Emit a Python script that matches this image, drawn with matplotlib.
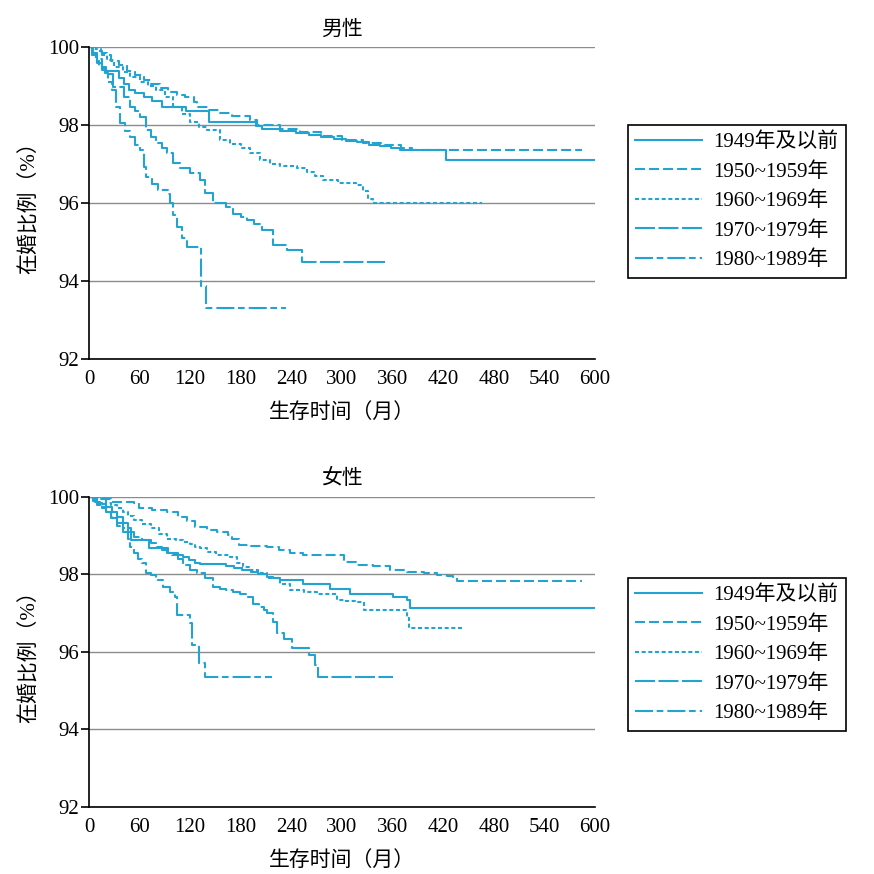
import matplotlib
matplotlib.use("Agg")
import matplotlib.pyplot as plt

plt.rcParams['font.family'] = ['Liberation Serif', 'Noto Sans CJK SC']
plt.rcParams['lines.scale_dashes'] = False

labels = ['1949年及以前', '1950~1959年', '1960~1969年', '1970~1979年', '1980~1989年']
xticks = [0, 60, 120, 180, 240, 300, 360, 420, 480, 540, 600]
yticks = [92, 94, 96, 98, 100]

# 男性 - 生存时间(月) / 在婚比例(%)
m1949_t = [0, 5, 10, 15, 20, 36, 42, 48, 55, 65, 75, 86, 115, 142, 198, 205, 226, 245, 261, 275, 290, 305, 318, 332, 345, 358, 369, 423, 600]
m1949_v = [100, 99.8, 99.6, 99.45, 99.38, 99.2, 99.05, 98.9, 98.82, 98.73, 98.62, 98.45, 98.35, 98.08, 97.97, 97.9, 97.85, 97.8, 97.74, 97.7, 97.65, 97.6, 97.56, 97.5, 97.46, 97.42, 97.36, 97.1, 97.1]
m1950_t = [0, 8, 16, 26, 35, 45, 55, 65, 74, 84, 94, 104, 114, 125, 128, 142, 155, 170, 191, 199, 226, 250, 275, 300, 325, 350, 370, 383, 585]
m1950_v = [100, 99.9, 99.8, 99.65, 99.53, 99.38, 99.27, 99.15, 99.06, 98.95, 98.85, 98.78, 98.72, 98.59, 98.45, 98.38, 98.3, 98.22, 98.13, 98.0, 97.9, 97.82, 97.72, 97.62, 97.55, 97.48, 97.42, 97.36, 97.36]
m1960_t = [0, 8, 14, 21, 30, 40, 49, 60, 70, 80, 90, 100, 110, 120, 130, 140, 155, 167, 180, 191, 203, 215, 227, 247, 258, 268, 278, 295, 317, 325, 331, 337, 466]
m1960_v = [100, 99.95, 99.85, 99.66, 99.5, 99.35, 99.23, 99.1, 99.0, 98.9, 98.72, 98.47, 98.28, 98.07, 97.95, 97.87, 97.62, 97.52, 97.4, 97.28, 97.1, 97.0, 96.95, 96.89, 96.8, 96.7, 96.59, 96.52, 96.46, 96.3, 96.1, 95.99, 95.99]
m1970_t = [0, 5, 10, 15, 20, 29, 41, 49, 55, 61, 68, 74, 80, 86, 92, 100, 108, 120, 132, 137, 147, 163, 171, 180, 187, 196, 205, 218, 235, 252, 351]
m1970_v = [100, 99.85, 99.7, 99.5, 99.3, 98.98, 98.73, 98.47, 98.35, 98.21, 97.87, 97.7, 97.53, 97.4, 97.27, 97.02, 96.89, 96.76, 96.59, 96.25, 95.99, 95.9, 95.73, 95.65, 95.56, 95.45, 95.3, 94.92, 94.79, 94.5, 94.5]
m1980_t = [0, 4, 8, 12, 16, 19, 23, 27, 32, 37, 43, 49, 55, 61, 65, 68, 75, 82, 94, 96, 100, 104, 110, 116, 133, 139, 234]
m1980_v = [100, 99.8, 99.65, 99.5, 99.4, 99.33, 99.1, 98.9, 98.45, 98.04, 97.85, 97.7, 97.5, 97.36, 96.93, 96.67, 96.5, 96.33, 96.24, 95.99, 95.7, 95.39, 95.1, 94.88, 93.86, 93.3, 93.3]

# 女性
f1949_t = [0, 5, 10, 15, 20, 27, 33, 40, 46, 50, 71, 94, 106, 112, 119, 126, 132, 163, 172, 182, 192, 200, 211, 218, 226, 254, 286, 310, 361, 377, 381, 600]
f1949_v = [100, 99.93, 99.85, 99.8, 99.74, 99.6, 99.48, 99.32, 99.18, 98.88, 98.67, 98.54, 98.5, 98.45, 98.37, 98.3, 98.26, 98.2, 98.15, 98.1, 98.06, 98.0, 97.94, 97.9, 97.85, 97.76, 97.63, 97.5, 97.4, 97.33, 97.12, 97.12]
f1950_t = [0, 13, 26, 53, 59, 75, 93, 106, 116, 126, 140, 152, 165, 170, 178, 192, 211, 225, 238, 254, 298, 302, 318, 337, 357, 377, 397, 413, 425, 432, 436, 585]
f1950_v = [100, 99.93, 99.87, 99.83, 99.7, 99.65, 99.61, 99.48, 99.38, 99.23, 99.15, 99.1, 99.01, 98.9, 98.75, 98.72, 98.7, 98.62, 98.56, 98.5, 98.5, 98.32, 98.25, 98.2, 98.12, 98.06, 98.04, 97.98, 97.95, 97.92, 97.82, 97.82]
f1960_t = [0, 10, 20, 26, 33, 40, 46, 53, 63, 73, 83, 93, 103, 112, 120, 126, 132, 140, 150, 167, 175, 183, 191, 200, 211, 226, 238, 255, 270, 294, 304, 317, 326, 377, 379, 383, 444]
f1960_v = [100, 99.95, 99.85, 99.78, 99.7, 99.61, 99.5, 99.4, 99.3, 99.18, 99.05, 98.92, 98.88, 98.84, 98.78, 98.71, 98.67, 98.58, 98.49, 98.45, 98.28, 98.18, 98.11, 98.02, 97.9, 97.76, 97.59, 97.54, 97.5, 97.33, 97.3, 97.29, 97.08, 96.86, 96.65, 96.62, 96.62]
f1970_t = [0, 7, 13, 20, 26, 33, 40, 46, 53, 63, 73, 80, 86, 92, 99, 106, 112, 120, 128, 137, 147, 155, 163, 171, 179, 187, 195, 201, 207, 211, 218, 223, 231, 241, 261, 268, 271, 360]
f1970_v = [100, 99.87, 99.74, 99.6, 99.48, 99.32, 99.18, 99.08, 98.97, 98.88, 98.8, 98.7, 98.62, 98.55, 98.49, 98.38, 98.24, 98.12, 98.02, 97.9, 97.67, 97.62, 97.59, 97.55, 97.5, 97.4, 97.24, 97.15, 97.07, 96.99, 96.77, 96.47, 96.34, 96.09, 95.92, 95.66, 95.34, 95.34]
f1980_t = [0, 5, 10, 15, 20, 26, 33, 40, 46, 49, 53, 58, 63, 68, 73, 80, 88, 96, 102, 104, 120, 122, 130, 138, 217]
f1980_v = [100, 99.88, 99.78, 99.7, 99.6, 99.44, 99.25, 99.08, 98.92, 98.71, 98.54, 98.4, 98.28, 98.02, 97.98, 97.85, 97.68, 97.55, 97.42, 96.95, 96.73, 96.17, 95.7, 95.34, 95.34]

male = [(m1949_t, m1949_v), (m1950_t, m1950_v), (m1960_t, m1960_v), (m1970_t, m1970_v), (m1980_t, m1980_v)]
female = [(f1949_t, f1949_v), (f1950_t, f1950_v), (f1960_t, f1960_v), (f1970_t, f1970_v), (f1980_t, f1980_v)]

color = '#22a3d2'
dashes = [None, (7.2, 2.9), (2.9, 1.9), (14.4, 2.5), (13, 2.6, 4.8, 2.9)]

fig = plt.figure(figsize=(8.74, 8.74), dpi=100)
ax1 = fig.add_axes([89/874, 1-359/874, 506/874, 312/874])
ax2 = fig.add_axes([89/874, 1-806.7/874, 506/874, 310/874])


def draw(ax, data, title, leg_top):
    handles = []
    for (t, v), d, lab in zip(data, dashes, labels):
        ln, = ax.step(t, v, where='post', color=color, lw=1.5, label=lab)
        if d is not None:
            ln.set_dashes(d)
        handles.append(ln)
    ax.set_xlim(0, 600)
    ax.set_ylim(92, 100)
    ax.set_xticks(xticks)
    ax.set_yticks(yticks)
    ax.tick_params(axis='x', length=0, pad=8, labelsize=15)
    ax.tick_params(axis='y', length=6, width=1.2, direction='out', pad=1, labelsize=15)
    ax.grid(axis='y', color='#8c8c8c', lw=1)
    ax.set_axisbelow(True)
    for s in ['top', 'right']:
        ax.spines[s].set_visible(False)
    for s in ['left', 'bottom']:
        ax.spines[s].set_linewidth(1.2)
        ax.spines[s].set_color('black')
    ax.set_title(title, fontsize=15, pad=9)
    ax.set_xlabel('生存时间（月）', fontsize=15, labelpad=10)
    ax.set_ylabel('在婚比例（%）', fontsize=15, labelpad=6)
    ax.legend(handles=handles, loc='upper left', bbox_to_anchor=(628/874, 1-leg_top/874),
              bbox_transform=fig.transFigure, borderaxespad=0, fancybox=False,
              edgecolor='black', framealpha=1, fontsize=15, handlelength=3.2,
              handletextpad=0.55, labelspacing=0.48, borderpad=0.35)
    ax.get_legend().get_frame().set_linewidth(1.2)


draw(ax1, male, '男性', 125)
draw(ax2, female, '女性', 578)

fig.savefig('out.png', dpi=100)
